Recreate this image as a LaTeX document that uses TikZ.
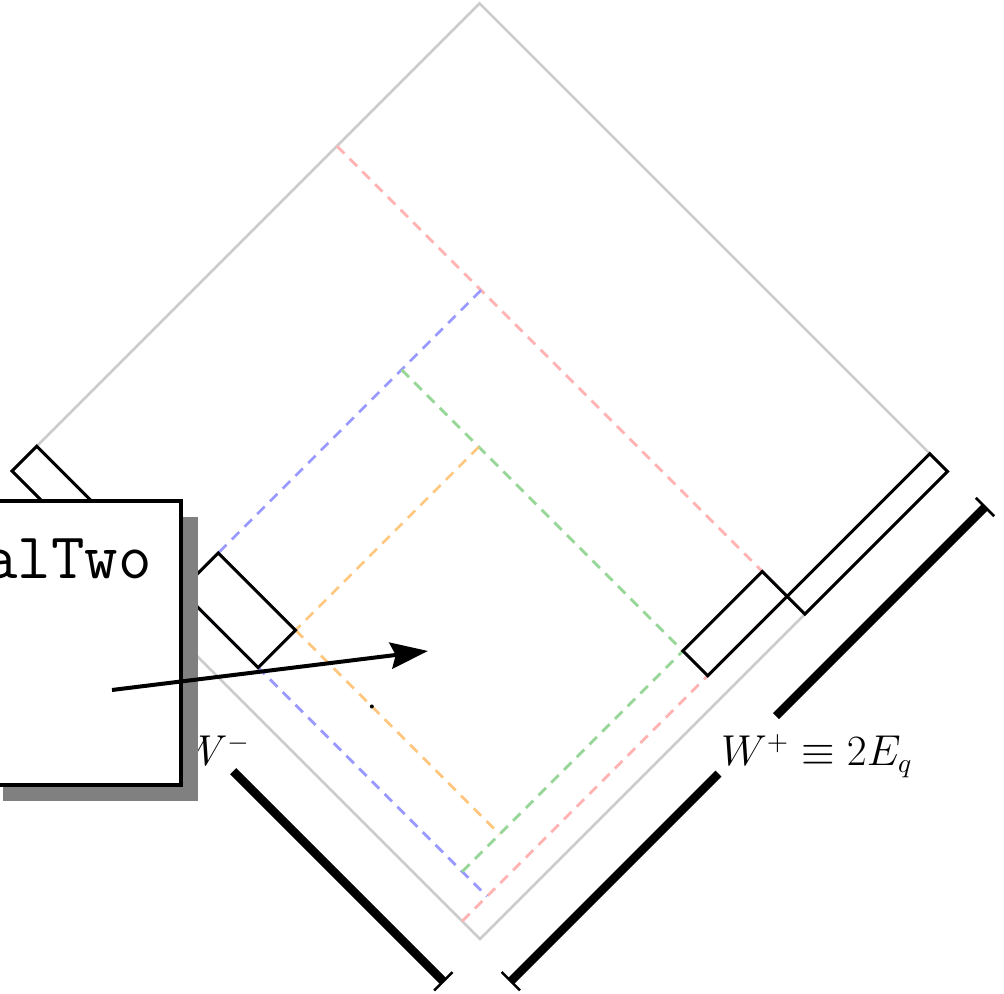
\documentclass[tikz,border=0pt]{standalone}
\usetikzlibrary{arrows.meta,shadows}
\definecolor{gline}{RGB}{204,204,204}
\definecolor{rline}{RGB}{255,179,179}
\definecolor{bline}{RGB}{153,153,255}
\definecolor{grline}{RGB}{150,214,150}
\definecolor{oline}{RGB}{255,200,128}
\begin{document}
\begin{tikzpicture}[x=1pt,y=1pt,
  diam/.style={draw=gline, line width=1pt},
  guide/.style={dash pattern=on 4.2pt off 3pt, line width=1.1pt},
  wpack/.style={draw=black, line width=1.2pt, line join=miter},
  dimline/.style={line width=3.4pt},
  bartip/.style={-{Bar[width=10.4pt,line width=1pt]}},
  lbl/.style={font=\fontsize{15.9}{19}\selectfont, inner sep=0pt, anchor=base west},
]
\useasboundingbox (0,0) rectangle (401.6,-397.6);
\def\aR{0.962}\def\bR{0.695}
\def\aB{0.308}\def\bB{0.053}
\def\aG{0.909}\def\bG{0.525}
\def\aO{0.473}\def\bO{0.133}
\begin{scope}[shift={(4.8,-188.4)}, x={(187.2pt,-187.2pt)}, y={(187pt,187pt)}]
  \coordinate (L) at (0,0);
  \coordinate (Bt) at (1,0);
  \coordinate (R) at (1,1);
  \coordinate (T) at (0,1);
  \draw[diam] (L) -- (Bt) -- (R) -- (T) -- cycle;
  % guide lines
  \coordinate (r1s) at (0,\bR);
  \coordinate (rc) at (\aR,\bR);
  \coordinate (r2s) at (\aR,0);
  \coordinate (b1s) at (\aB,\bR);
  \coordinate (bc) at (\aB,\bB);
  \coordinate (b2e) at (\aR,\bB);
  \coordinate (g1s) at (\aB,\bG);
  \coordinate (gc) at (\aG,\bG);
  \coordinate (g2s) at (\aG,\bB);
  \coordinate (o1s) at (\aO,\bG);
  \coordinate (oc) at (\aO,\bO);
  \coordinate (o2e) at (\aG,\bO);
  \draw[guide, rline] (r1s) -- (rc);
  \draw[guide, rline] (r2s) -- (rc);
  \draw[guide, bline] (b1s) -- (bc);
  \draw[guide, bline] (bc) -- (b2e);
  \draw[guide, grline] (g1s) -- (gc);
  \draw[guide, grline] (g2s) -- (gc);
  \draw[guide, oline] (o1s) -- (oc);
  \draw[guide, oline] (oc) -- (o2e);
  % wave packets
  \draw[wpack] (0,0) -- (\aB,0) -- (\aB,\bB) -- (0,\bB) -- cycle;
  \draw[wpack] (\aB,\bB) -- (\aO,\bB) -- (\aO,\bO) -- (\aB,\bO) -- cycle;
  \draw[wpack] (\aG,\bG) -- (\aR,\bG) -- (\aR,\bR) -- (\aG,\bR) -- cycle;
  \draw[wpack] (\aR,\bR) -- (1,\bR) -- (1,1) -- (\aR,1) -- cycle;
  \fill (0.636,\bO) circle (0.8pt);
  % dimension lines
  \coordinate (wmA) at (0.557,-0.0845);
  \coordinate (wmB) at (1.008,-0.0845);
  \coordinate (wpA) at (1.078,-0.014);
  \coordinate (wpG1) at (1.078,0.432);
  \coordinate (wpG2) at (1.078,0.555);
  \coordinate (wpB) at (1.078,1.004);
  \draw[dimline, bartip] (wmA) -- (wmB);
  \draw[dimline, bartip] (wpG1) -- (wpA);
  \draw[dimline, bartip] (wpG2) -- (wpB);
\end{scope}
\node[lbl] (wminus) at (72.4,-306.4) {$W^-$};
\node[lbl] (wplus) at (288.2,-306.4) {$W^+\equiv 2E_q$};
\node[draw, line width=1.6pt, fill=white, minimum width=78pt, minimum height=113.6pt,
  anchor=north east, inner sep=0pt,
  drop shadow={shadow xshift=6.8pt, shadow yshift=-6.4pt, opacity=1, fill=black!50}]
  (box) at (73.2,-199.6) {};
\node[font=\ttfamily\fontsize{26}{30}\selectfont, anchor=base east, inner sep=0pt] (t1) at (60.8,-231.6) {alTwo};
\coordinate (arS) at (44.8,-276);
\coordinate (arE) at (171.2,-260.4);
\draw[line width=1.6pt, -{Stealth[length=15pt,width=10.5pt,inset=2pt]}] (arS) -- (arE);
\end{tikzpicture}
\end{document}
